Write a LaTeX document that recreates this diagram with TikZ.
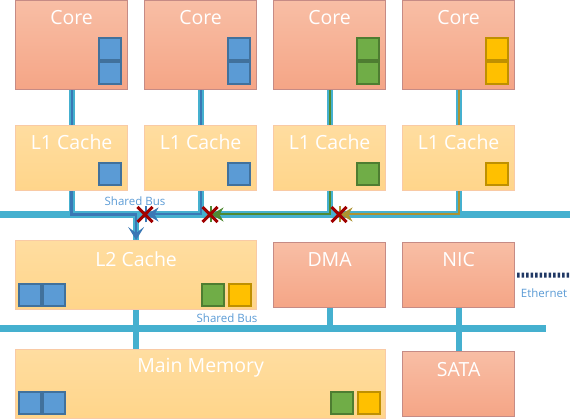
\documentclass[tikz,border=0pt]{standalone}
\usepackage{fontspec}
\setmainfont{Open Sans}
\usetikzlibrary{arrows.meta,shapes.misc,positioning}
\definecolor{coretop}{HTML}{F8BEA5}
\definecolor{corebot}{HTML}{F5A586}
\definecolor{coreline}{HTML}{C68B85}
\definecolor{cachetop}{HTML}{FFDDA0}
\definecolor{cachebot}{HTML}{FFD58A}
\definecolor{cacheline}{HTML}{F9CAA5}
\definecolor{busc}{HTML}{45B0CF}
\definecolor{mblue}{HTML}{5B9BD5}
\definecolor{mblueD}{HTML}{41719C}
\definecolor{mgreen}{HTML}{70AD47}
\definecolor{mgreenD}{HTML}{4E7D31}
\definecolor{mgold}{HTML}{FFC000}
\definecolor{mgoldD}{HTML}{BF9000}
\definecolor{sblue}{HTML}{3A78B5}
\definecolor{sgreen}{HTML}{4F8A32}
\definecolor{sgold}{HTML}{AD9330}
\definecolor{xred}{HTML}{A00000}
\definecolor{tagc}{HTML}{5B9BD5}
\definecolor{ethc}{HTML}{203864}
\tikzset{
  box/.style={draw, line width=1.2pt, anchor=north west, inner sep=0pt},
  core/.style={box, draw=coreline, top color=coretop, bottom color=corebot},
  cache/.style={box, draw=cacheline, top color=cachetop, bottom color=cachebot},
  title/.style={text=white, font=\fontsize{19.5}{22}\selectfont, anchor=base},
  sq/.style={draw=#1D, fill=#1, line width=2pt, minimum size=22pt, inner sep=0pt},
  bus/.style={busc, line width=7pt},
  link/.style={busc, line width=6pt},
  sig/.style={#1, line width=2pt},
  stop/.style={-{Stealth[length=12pt,width=14pt,inset=4pt] Bar[width=16pt,line width=1.5pt]}},
  cross/.style={draw=xred, cross out, line width=3pt, minimum size=12pt, inner sep=0pt},
  tag/.style={text=tagc, font=\fontsize{11.5}{13}\selectfont, anchor=base},
  ether/.style={ethc, line width=5pt, dash pattern=on 2.3pt off 2.2pt}
}
\begin{document}
\begin{tikzpicture}[x=1pt,y=-1pt]
    \useasboundingbox (0,0) rectangle (570,419);
    %% Cores and L1 caches
    \node[core, minimum width=112pt, minimum height=89pt] (core1) at (15,0) {};
    \node[core, minimum width=112pt, minimum height=89pt] (core2) at (144,0) {};
    \node[core, minimum width=112pt, minimum height=89pt] (core3) at (273,0) {};
    \node[core, minimum width=112pt, minimum height=89pt] (core4) at (402,0) {};
    \node[cache, minimum width=112pt, minimum height=65pt] (l1a) at (15,125) {};
    \node[cache, minimum width=112pt, minimum height=65pt] (l1b) at (144,125) {};
    \node[cache, minimum width=112pt, minimum height=65pt] (l1c) at (273,125) {};
    \node[cache, minimum width=112pt, minimum height=65pt] (l1d) at (402,125) {};
    \node[title] (core1t) at ([yshift=-25pt]core1.north) {Core};
    \node[title] (core2t) at ([yshift=-25pt]core2.north) {Core};
    \node[title] (core3t) at ([yshift=-25pt]core3.north) {Core};
    \node[title] (core4t) at ([yshift=-25pt]core4.north) {Core};
    \node[title] (l1at) at ([yshift=-25pt]l1a.north) {L1 Cache};
    \node[title] (l1bt) at ([yshift=-25pt]l1b.north) {L1 Cache};
    \node[title] (l1ct) at ([yshift=-25pt]l1c.north) {L1 Cache};
    \node[title] (l1dt) at ([yshift=-25pt]l1d.north) {L1 Cache};
    %% Lower level
    \node[cache, minimum width=241pt, minimum height=69pt] (l2) at (15,240) {};
    \node[core, minimum width=112pt, minimum height=65pt] (dma) at (273,242) {};
    \node[core, minimum width=112pt, minimum height=65pt] (nic) at (402,242) {};
    \node[cache, minimum width=370pt, minimum height=69pt] (mem) at (15,349) {};
    \node[core, minimum width=112pt, minimum height=65pt] (sata) at (402,351) {};
    \node[title] (l2t) at ([yshift=-27pt]l2.north) {L2 Cache};
    \node[title] (dmat) at ([yshift=-25pt]dma.north) {DMA};
    \node[title] (nict) at ([yshift=-25pt]nic.north) {NIC};
    \node[title] (memt) at ([yshift=-23pt]mem.north) {Main Memory};
    \node[title] (satat) at ([yshift=-25pt]sata.north) {SATA};
    %% Blocks
    \node[sq=mblue] (core1q1) at ([shift={(-18,-41)}]core1.south east) {};
    \node[sq=mblue] (core1q2) at ([shift={(-18,-17)}]core1.south east) {};
    \node[sq=mblue] (core2q1) at ([shift={(-18,-41)}]core2.south east) {};
    \node[sq=mblue] (core2q2) at ([shift={(-18,-17)}]core2.south east) {};
    \node[sq=mgreen] (core3q1) at ([shift={(-18,-41)}]core3.south east) {};
    \node[sq=mgreen] (core3q2) at ([shift={(-18,-17)}]core3.south east) {};
    \node[sq=mgold] (core4q1) at ([shift={(-18,-41)}]core4.south east) {};
    \node[sq=mgold] (core4q2) at ([shift={(-18,-17)}]core4.south east) {};
    \node[sq=mblue] (l1aq) at ([shift={(-18,-17)}]l1a.south east) {};
    \node[sq=mblue] (l1bq) at ([shift={(-18,-17)}]l1b.south east) {};
    \node[sq=mgreen] (l1cq) at ([shift={(-18,-17)}]l1c.south east) {};
    \node[sq=mgold] (l1dq) at ([shift={(-18,-17)}]l1d.south east) {};
    \node[sq=mblue] (l2q1) at ([shift={(15,-15)}]l2.south west) {};
    \node[sq=mblue] (l2q2) at ([shift={(39,-15)}]l2.south west) {};
    \node[sq=mgreen] (l2q3) at ([shift={(-44,-15)}]l2.south east) {};
    \node[sq=mgold] (l2q4) at ([shift={(-17,-15)}]l2.south east) {};
    \node[sq=mblue] (memq1) at ([shift={(15,-16.5)}]mem.south west) {};
    \node[sq=mblue] (memq2) at ([shift={(39,-16.5)}]mem.south west) {};
    \node[sq=mgreen] (memq3) at ([shift={(-44,-16.5)}]mem.south east) {};
    \node[sq=mgold] (memq4) at ([shift={(-17,-16.5)}]mem.south east) {};
    %% Buses and links
    \coordinate (busA) at (0,214.5);
    \coordinate (busAe) at (570,214.5);
    \coordinate (busB) at (0,328.5);
    \coordinate (busBe) at (546,328.5);
    \draw[bus] (busA) -- (busAe);
    \draw[bus] (busB) -- (busBe);
    \draw[link] (core1.south) -- (l1a.north);
    \draw[link] (core2.south) -- (l1b.north);
    \draw[link] (core3.south) -- (l1c.north);
    \draw[link] (core4.south) -- (l1d.north);
    \draw[link] (l1a.south) |- (l2.north |- busA) -- (l2.north);
    \draw[link] (l1b.south) -- (l1b.south |- busA);
    \draw[link] (l1c.south) -- (l1c.south |- busA);
    \draw[link] (l1d.south) -- (l1d.south |- busA);
    \draw[link] (l2.south) -- (l2.south |- mem.north);
    \draw[link] (dma.south) -- (dma.south |- busB);
    \draw[link] (nic.south) -- (sata.north);
    %% Signals
    \coordinate (stopa) at (145,214.5);
    \coordinate (stopb) at (210,214.5);
    \coordinate (stopc) at (339,214.5);
    \draw[sig=sblue] (core1.south) -- (l1a.north);
    \draw[sig=sblue] (core2.south) -- (l1b.north);
    \draw[sig=sgreen] (core3.south) -- (l1c.north);
    \draw[sig=sgold] (core4.south) -- (l1d.north);
    \draw[sig=sblue, line width=2.5pt, -{Stealth[length=13pt,width=16pt,inset=6pt]}] (l1a.south) |- (l2.north |- busA) -- (l2.north);
    \draw[sig=sblue, stop] (l1b.south) |- (stopa);
    \draw[sig=sgreen, stop] (l1c.south) |- (stopb);
    \draw[sig=sgold, stop] (l1d.south) |- (stopc);
    \node[cross] (xa) at (stopa) {};
    \node[cross] (xb) at (stopb) {};
    \node[cross] (xc) at (stopc) {};
    %% Labels
    \node[tag] (busAt) at (135,206) {Shared Bus};
    \node[tag] (busBt) at (227,323) {Shared Bus};
    \coordinate (ethend) at (570,275);
    \draw[ether] ([xshift=2pt]nic.east) -- (ethend);
    \node[tag] (etht) at (544,298) {Ethernet};
\end{tikzpicture}
\end{document}
